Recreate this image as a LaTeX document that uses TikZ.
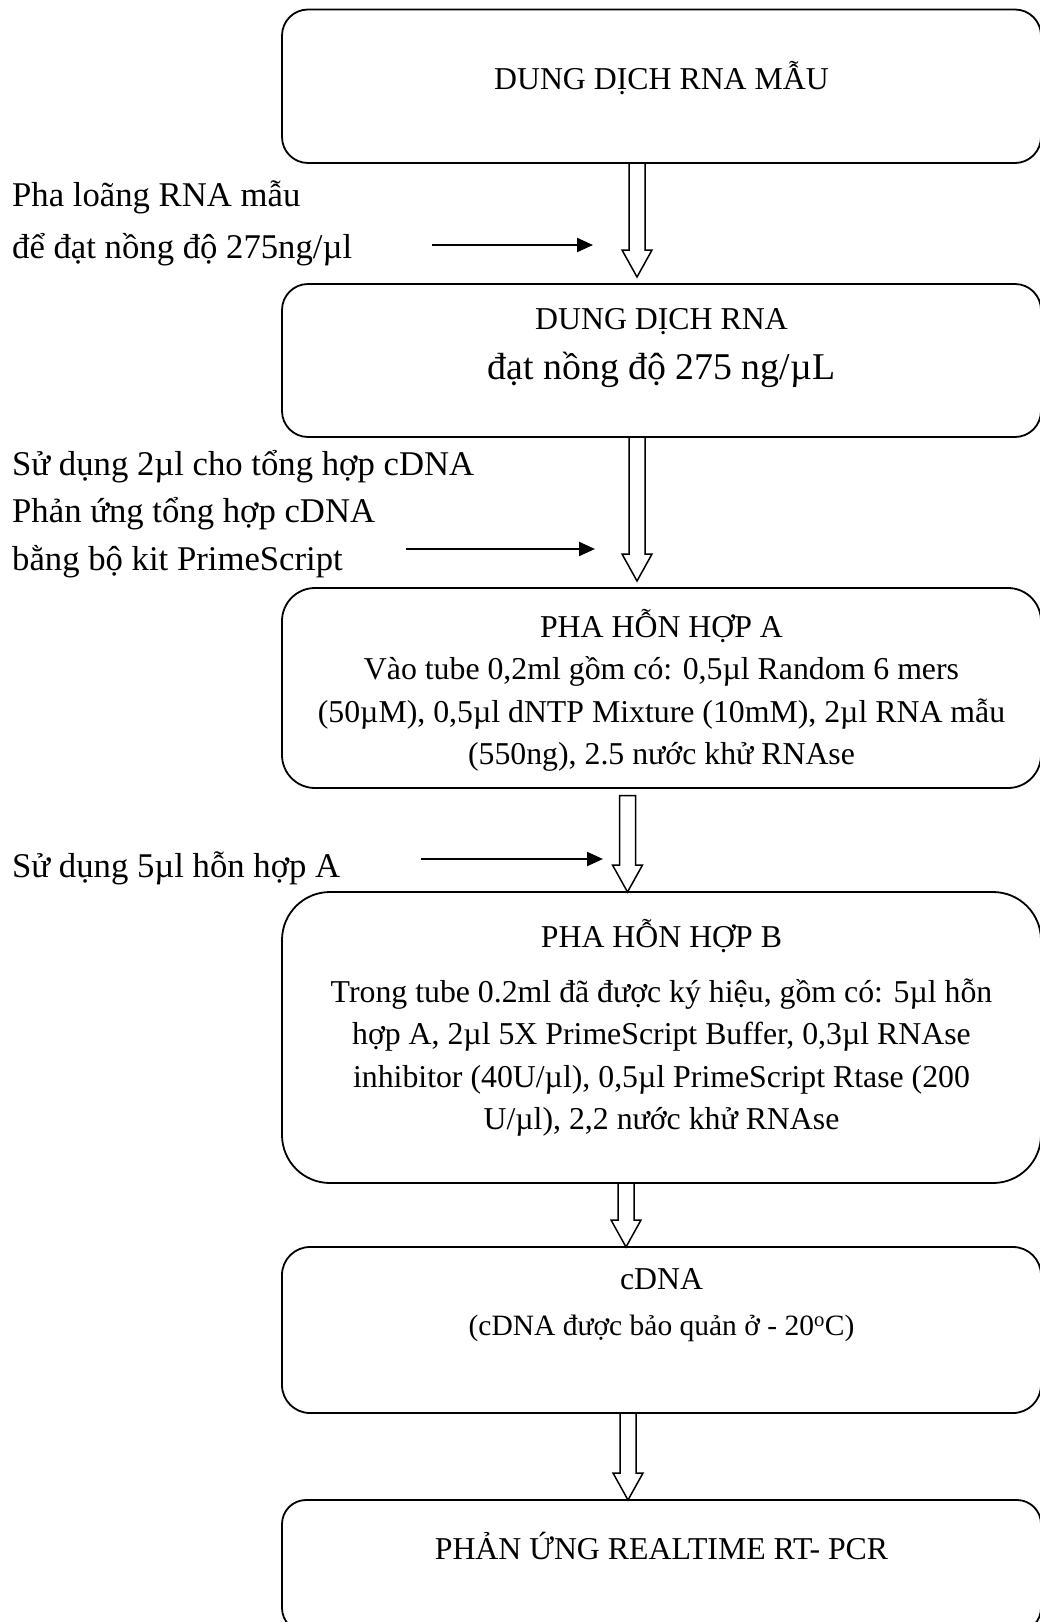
\documentclass[tikz,border=0pt]{standalone}
\usepackage{fontspec}
\setmainfont{Liberation Serif}
\usetikzlibrary{arrows.meta, positioning, calc}
\tikzset{
  stepbox/.style={
    draw, rounded corners=#1, line width=1.8pt,
    minimum width=759pt, inner sep=0pt, outer sep=0pt
  },
  stepbox/.default=26pt,
  boxtext/.style={font=\fontsize{31.8}{42.5}\selectfont, align=center, inner sep=0pt},
  sidetext/.style={font=\fontsize{34.7}{47.5}\selectfont, align=left, anchor=west, inner sep=0pt},
  darrow/.style={-{Triangle[length=16pt, width=14pt]}, line width=2.2pt},
  hollow/.style={line width=1.5pt, line join=miter}
}
% hollow block arrow from #1 down to the tip #2
\newcommand{\hollowarrow}[2]{%
  \draw[hollow] let \p1=(#1), \p2=(#2) in
    (\x1-8pt,\y1) -- (\x1-8pt,\y2+27pt) -- (\x1-15pt,\y2+27pt) -- (\x1,\y2)
    -- (\x1+15pt,\y2+27pt) -- (\x1+8pt,\y2+27pt) -- (\x1+8pt,\y1) -- cycle;}

\begin{document}
\begin{tikzpicture}[x=1pt, y=-1pt]
  \path[use as bounding box, fill=white] (0,0) rectangle (1040,1622);

  % boxes
  \node[stepbox, minimum height=153.5pt] (b1) at (661.5,86.25) {};
  \node[stepbox, minimum height=153pt, below=121pt of b1] (b2) {};
  \node[stepbox=33pt, minimum height=200pt, below=151pt of b2] (b3) {};
  \node[stepbox=48pt, minimum height=291pt, below=104pt of b3] (b4) {};
  \node[stepbox=28pt, minimum height=166pt, below=64pt of b4] (b5) {};
  \node[stepbox=24pt, minimum height=132pt, below=87pt of b5] (b6) {};

  % box texts
  \node[boxtext] (t1) at ([yshift=7.75pt]b1.center) {DUNG DỊCH RNA MẪU};
  \node[boxtext] (t2) at ([yshift=12pt]b2.center) {DUNG DỊCH RNA\\[7.5pt]
    {\fontsize{37.8}{47}\selectfont đạt nồng độ 275 ng/µL}};
  \node[boxtext] (t3) at ([yshift=-2.5pt]b3.center) {PHA HỖN HỢP A\\
    Vào tube 0,2ml gồm có: 0,5µl Random 6 mers\\
    (50µM), 0,5µl dNTP Mixture (10mM), 2µl RNA mẫu\\
    (550ng), 2.5 nước khử RNAse};
  \node[boxtext] (t4) at ([yshift=9.5pt]b4.center) {PHA HỖN HỢP B\\[12.5pt]
    Trong tube 0.2ml đã được ký hiệu, gồm có: 5µl hỗn\\
    hợp A, 2µl 5X PrimeScript Buffer, 0,3µl RNAse\\
    inhibitor (40U/µl), 0,5µl PrimeScript Rtase (200\\
    U/µl), 2,2 nước khử RNAse};
  \node[boxtext] (t5) at ([yshift=25pt]b5.center) {cDNA\\[3pt]
    {\fontsize{29.5}{38}\selectfont (cDNA được bảo quản ở - 20\textsuperscript{o}C)}};
  \node[boxtext] (t6) at ([yshift=20pt]b6.center) {PHẢN ỨNG REALTIME RT- PCR};

  % side notes
  \node[sidetext] (l1) at (12,223.5) {Pha loãng RNA mẫu\\[4pt]để đạt nồng độ 275ng/µl};
  \node[sidetext] (l2) at (12,514) {Sử dụng 2µl cho tổng hợp cDNA\\Phản ứng tổng hợp cDNA\\bằng bộ kit PrimeScript};
  \node[sidetext] (l3) at (12,868) {Sử dụng 5µl hỗn hợp A};

  \coordinate (p1s) at (432,245);
  \coordinate (p1e) at (593,245);
  \coordinate (p2s) at (406,549);
  \coordinate (p2e) at (595,549);
  \coordinate (p3s) at (421,859);
  \coordinate (p3e) at (603,859);
  \draw[darrow] (p1s) -- (p1e);
  \draw[darrow] (p2s) -- (p2e);
  \draw[darrow] (p3s) -- (p3e);

  % flow arrows
  \hollowarrow{$(b1.south)+(-24.5,0)$}{$(b2.north)+(-24.5,-7)$}
  \hollowarrow{$(b2.south)+(-24.5,0)$}{$(b3.north)+(-24.5,-7)$}
  \hollowarrow{$(b3.south)+(-34,7.5)$}{$(b4.north)+(-34,0)$}
  \hollowarrow{$(b4.south)+(-35.5,0)$}{$(b5.north)+(-35.5,0)$}
  \hollowarrow{$(b5.south)+(-33.5,0)$}{$(b6.north)+(-33.5,0)$}
\end{tikzpicture}
\end{document}
